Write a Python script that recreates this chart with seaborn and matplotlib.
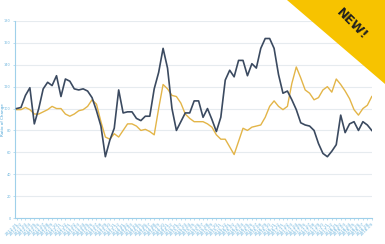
import matplotlib
matplotlib.use("Agg")
import matplotlib.pyplot as plt
import matplotlib.patches as mpatches
import seaborn as sns
import pandas as pd
import numpy as np

# ---- data ----
periods = pd.date_range("2012-01-01", periods=81, freq="MS").strftime("%Y-%m").tolist()
series_a = [100, 101, 112, 119, 86, 100, 118, 124, 121, 130, 111, 127, 125, 118, 117, 118,
            116, 110, 98, 84, 56, 71, 82, 117, 96, 97, 97, 91, 89, 93, 93, 118, 133, 155,
            137, 100, 80, 88, 96, 96, 107, 107, 92, 100, 90, 79, 92, 126, 135, 129, 144,
            144, 130, 141, 137, 155, 164, 164, 155, 131, 114, 116, 108, 99, 87, 85, 84, 80,
            68, 59, 56, 61, 67, 94, 78, 86, 88, 80, 88, 85, 80]
series_b = [99, 99, 101, 99, 95, 95, 97, 99, 102, 100, 100, 95, 93, 95, 98, 99, 102, 108,
            104, 88, 74, 72, 77, 74, 80, 86, 86, 84, 80, 81, 79, 76, 100, 122, 118, 112,
            111, 105, 95, 91, 88, 88, 88, 86, 83, 76, 72, 72, 65, 58, 70, 82, 80, 83, 84,
            85, 92, 102, 107, 102, 99, 102, 123, 138, 128, 117, 114, 108, 110, 117, 120,
            115, 127, 122, 116, 109, 99, 94, 100, 103, 111]
series_names = ["Series A", "Series B"]
y_ticks = [0, 20, 40, 60, 80, 100, 120, 140, 160, 180]
y_label = "Ratio of Change"
badge_text = "NEW!"

df = pd.DataFrame({
    "idx": list(range(len(periods))) * 2,
    "value": series_a + series_b,
    "series": [series_names[0]] * len(series_a) + [series_names[1]] * len(series_b),
})

W, H = 385, 244
fig = plt.figure(figsize=(W / 100, H / 100), dpi=100)
fig.patch.set_facecolor("white")
ax = fig.add_axes([15 / W, 1 - 218 / H, (372 - 15) / W, (218 - 21) / H])

axis_col = "#9fd0ea"
label_col = "#6fb6de"
sns.lineplot(data=df, x="idx", y="value", hue="series",
             palette={series_names[0]: "#3b4a60", series_names[1]: "#e3b548"},
             ax=ax, legend=False, hue_order=series_names[::-1])
for ln, lw in zip(ax.lines, [1.0, 1.2]):
    ln.set_linewidth(lw)
if len(ax.lines) > 1:
    ax.lines[1].set_zorder(4)

ax.set_xlim(-0.35, len(periods) - 1 + 0.05)
ax.set_ylim(0, 180)
ax.set_yticks(y_ticks)
ax.set_yticklabels([str(v) for v in y_ticks], fontsize=2.5, color=label_col)
ax.set_xticks(range(len(periods)))
ax.set_xticklabels(periods, rotation=45, ha="right", rotation_mode="anchor",
                   fontsize=3, color=label_col)
ax.tick_params(axis="both", length=1.5, width=0.5, color=axis_col, pad=1.5)
ax.set_xlabel("")
ax.set_ylabel(y_label, fontsize=3, color="#4aa3d6")
ax.yaxis.set_label_coords(-0.028, 0.5)
ax.grid(axis="y", color="#e6ebef", linewidth=0.8)
ax.grid(axis="x", visible=False)
ax.set_axisbelow(True)
for s in ["top", "right"]:
    ax.spines[s].set_visible(False)
for s in ["left", "bottom"]:
    ax.spines[s].set_color(axis_col)
    ax.spines[s].set_linewidth(0.8)

# badge in the top-right corner
tri = mpatches.Polygon([[287 / W, 1.0], [1.0, 1.0], [1.0, 1 - 84 / H]], closed=True,
                       transform=fig.transFigure, facecolor="#f7c300", edgecolor="none",
                       zorder=10)
fig.patches.append(tri)
fig.text(352 / W, 1 - 24 / H, badge_text, rotation=-45, ha="center", va="center",
         fontsize=9, fontweight="bold", color="#1f1f1f", zorder=11,
         transform=fig.transFigure)

fig.savefig("out.png", dpi=100, facecolor="white")
